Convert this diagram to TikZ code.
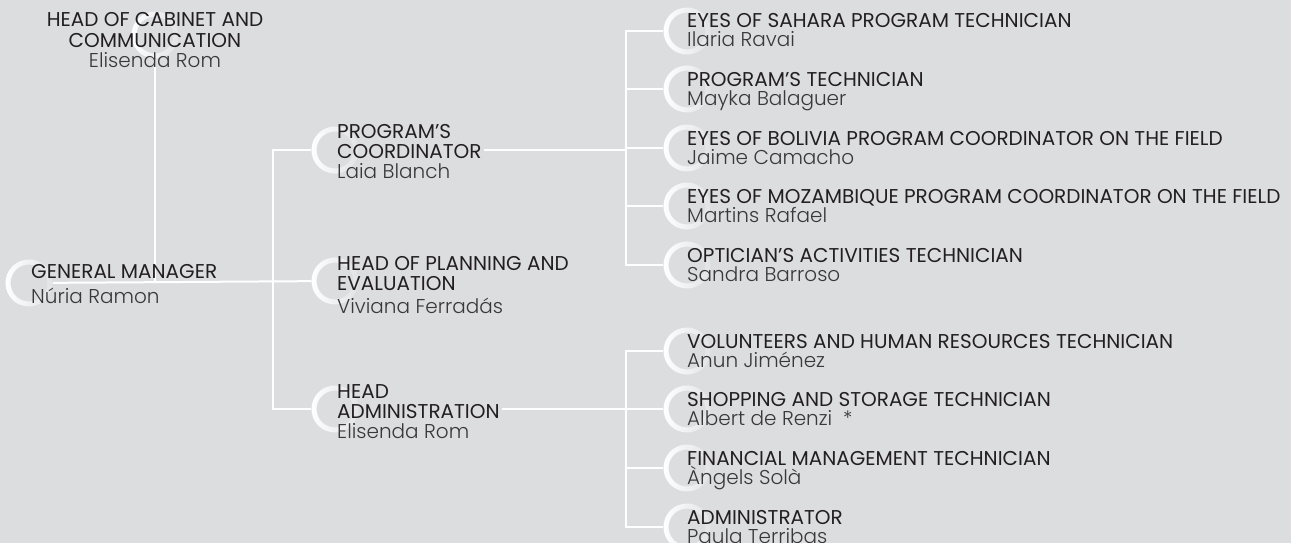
\documentclass[tikz,border=0pt]{standalone}
\usepackage{fontspec}
\setmainfont{Poppins}
\newfontfamily\namefont{Poppins Light}
\usetikzlibrary{positioning, fadings}
\definecolor{paper}{HTML}{DCDDDF}
\definecolor{ink}{HTML}{231F20}
\definecolor{inkname}{HTML}{3A3839}
\tikzfading[name=halofade, left color=transparent!0, middle color=transparent!10, right color=transparent!80]
\tikzset{
	post/.style={
			circle, minimum size=47pt, inner sep=0pt},
	halo/.style={
			draw=white, line width=5pt, path fading=halofade},
	who/.style={
			anchor=base west, align=left, inner sep=0pt, text=ink,
			font=\fontsize{20}{20}\selectfont},
	link/.style={
			draw=white, line width=2pt},
		}

\begin{document}
\begin{tikzpicture} [x=1pt, y=-1pt]

	\fill[paper] (0,0) rectangle (1291,543);
	\useasboundingbox (0,0) rectangle (1291,543);

	% left side
	\node[post] (cab) at (155,35) {};
	\node[post] (gm) at (29,283) {};
	\node[post] (pc) at (335,150) {};
	\node[post] (pe) at (335,281) {};
	\node[post] (ha) at (335,409) {};

	\coordinate (jcab) at (gm -| cab);
	\coordinate (j2) at (273,281);
	\coordinate (j3) at (626,150);
	\coordinate (j4) at (626,409);

	\draw[link] (cab) -- (jcab);
	\draw[link] (gm) -- (pe);
	\draw[link] (pc) -| (j2) |- (ha);

	\foreach \n in {cab, gm, pc, pe, ha}
		\draw[halo] (\n) circle[radius=21pt];

	% (base = last line, the name)
	\node[who, anchor=base, align=center] (cabt) at (155,67)
		{HEAD OF CABINET AND\\ COMMUNICATION\\ \namefont\color{inkname} Elisenda Rom};
	\node[who] (gmt) at (31,303)
		{GENERAL MANAGER\\[5pt] \namefont\color{inkname} Núria Ramon};
	\node[who] (pct) at (337,178)
		{PROGRAM'S\\ COORDINATOR\\ \namefont\color{inkname} Laia Blanch};
	\node[who] (pet) at (337,313)
		{HEAD OF PLANNING AND\\ EVALUATION\\[3pt] \namefont\color{inkname} Viviana Ferradás};
	\node[who] (hat) at (337,438)
		{HEAD\\ ADMINISTRATION\\ \namefont\color{inkname} Elisenda Rom};

	\draw[link] ([xshift=2pt]pct.east |- pc) -- (j3);
	\draw[link] ([xshift=2pt]hat.east |- ha) -- (j4);

	% right side
	\foreach \n/\y/\j/\t/\p in {
			sah/31/j3/EYES OF SAHARA PROGRAM TECHNICIAN/Ilaria Ravai,
			prt/89/j3/PROGRAM'S TECHNICIAN/Mayka Balaguer,
			bol/148/j3/EYES OF BOLIVIA PROGRAM COORDINATOR ON THE FIELD/Jaime Camacho,
			moz/206/j3/EYES OF MOZAMBIQUE PROGRAM COORDINATOR ON THE FIELD/Martins Rafael,
			opt/265/j3/OPTICIAN'S ACTIVITIES TECHNICIAN/Sandra Barroso,
			vol/351/j4/VOLUNTEERS AND HUMAN RESOURCES TECHNICIAN/Anun Jiménez,
			sho/409/j4/SHOPPING AND STORAGE TECHNICIAN/Albert de Renzi\ \ *,
			fin/468/j4/FINANCIAL MANAGEMENT TECHNICIAN/Àngels Solà,
			adm/527/j4/ADMINISTRATOR/Paula Terribas} {
		\node[post] (\n) at (687,\y) {};
		\draw[link] (\n) -| (\j);
		\draw[halo] (\n) circle[radius=21pt];
		\node[who] (t\n) at ([yshift=-16pt]\n.center)
			{\t\\[-1pt] \namefont\color{inkname} \p};
	}

\end{tikzpicture}
\end{document}
